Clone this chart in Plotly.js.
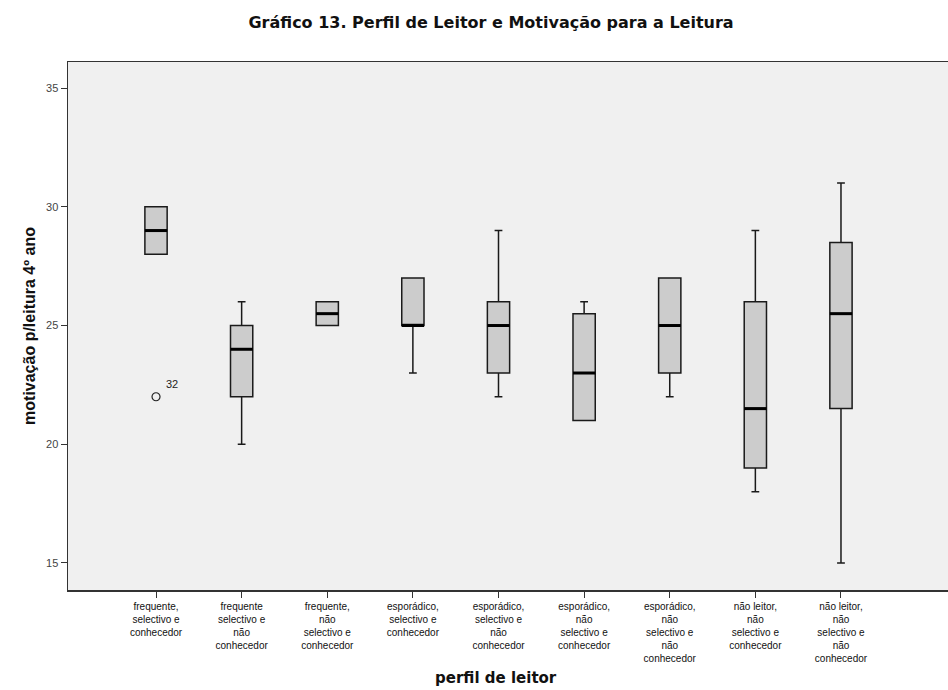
<!DOCTYPE html>
<html>
<head>
<meta charset="utf-8">
<script src="https://cdn.plot.ly/plotly-3.0.1.min.js"></script>
<style>html,body{margin:0;padding:0;background:#fff;}#chart{width:948px;height:690px;}</style>
</head>
<body>
<div id="chart"></div>
<script>
const categories = [
  "frequente,<br>selectivo e<br>conhecedor",
  "frequente<br>selectivo e<br>não<br>conhecedor",
  "frequente,<br>não<br>selectivo e<br>conhecedor",
  "esporádico,<br>selectivo e<br>conhecedor",
  "esporádico,<br>selectivo e<br>não<br>conhecedor",
  "esporádico,<br>não<br>selectivo e<br>conhecedor",
  "esporádico,<br>não<br>selectivo e<br>não<br>conhecedor",
  "não leitor,<br>não<br>selectivo e<br>conhecedor",
  "não leitor,<br>não<br>selectivo e<br>não<br>conhecedor"
];
const lowerFence = [28, 20, 25, 23, 22, 21, 22, 18, 15];
const q1Values   = [28, 22, 25, 25, 23, 21, 23, 19, 21.5];
const medians    = [29, 24, 25.5, 25, 25, 23, 25, 21.5, 25.5];
const q3Values   = [30, 25, 26, 27, 26, 25.5, 27, 26, 28.5];
const upperFence = [30, 26, 26, 27, 29, 26, 27, 29, 31];
const outlierCategoryIndex = [0];
const outlierValues = [22];
const outlierLabels = ["32"];
const yTickValues = [15, 20, 25, 30, 35];

const idx = categories.map((_, i) => i);
const boxWidth = 0.26;

const boxTrace = {
  type: 'box',
  x: idx,
  q1: q1Values,
  median: medians,
  q3: q3Values,
  lowerfence: lowerFence,
  upperfence: upperFence,
  fillcolor: '#cccccc',
  line: {color: '#1a1a1a', width: 1.5},
  width: boxWidth,
  whiskerwidth: 0.35,
  boxpoints: false,
  hoverinfo: 'skip',
  showlegend: false
};

const outlierTrace = {
  type: 'scatter',
  mode: 'markers',
  x: outlierCategoryIndex,
  y: outlierValues,
  marker: {symbol: 'circle-open', size: 8, color: '#222', line: {width: 1.2}},
  showlegend: false,
  hoverinfo: 'skip'
};

const medianShapes = medians.map((m, i) => ({
  type: 'line', xref: 'x', yref: 'y',
  x0: i - boxWidth / 2, x1: i + boxWidth / 2, y0: m, y1: m,
  line: {color: '#000', width: 3}
}));

const annotations = outlierValues.map((v, k) => ({
  x: outlierCategoryIndex[k], y: v, xref: 'x', yref: 'y',
  text: outlierLabels[k], showarrow: false,
  xshift: 16, yshift: 13,
  font: {family: 'Liberation Sans, Arial, sans-serif', size: 11, color: '#222'}
}));
annotations.push({
  x: 0.486, y: -0.167, xref: 'paper', yref: 'paper',
  xanchor: 'center', yanchor: 'middle', showarrow: false,
  text: '<b>perfil de leitor</b>',
  font: {family: 'DejaVu Sans, Verdana, sans-serif', size: 15, color: '#111'}
});

const layout = {
  width: 948, height: 690,
  margin: {l: 68, r: 0, t: 62, b: 100},
  paper_bgcolor: '#ffffff',
  plot_bgcolor: '#f0f0f0',
  title: {
    text: '<b>Gráfico 13. Perfil de Leitor e Motivação para a Leitura</b>',
    font: {family: 'DejaVu Sans, Verdana, sans-serif', size: 16, color: '#111'},
    x: 0.518, xanchor: 'center', y: 0.968, yanchor: 'middle'
  },
  xaxis: {
    tickmode: 'array',
    tickvals: idx,
    ticktext: categories,
    range: [-1.028, 9.25],
    showgrid: false, zeroline: false,
    showline: true, linecolor: '#333', linewidth: 1.5, mirror: true,
    ticks: 'outside', ticklen: 6, tickcolor: '#333',
    tickfont: {family: 'Liberation Sans, Arial, sans-serif', size: 10, color: '#111'}
  },
  yaxis: {
    range: [13.86, 36.1],
    tickmode: 'array',
    tickvals: yTickValues,
    showgrid: false, zeroline: false,
    showline: true, linecolor: '#333', linewidth: 1.5, mirror: false,
    ticks: 'outside', ticklen: 6, tickcolor: '#333',
    tickfont: {family: 'Liberation Sans, Arial, sans-serif', size: 11, color: '#444'},
    title: {
      text: '<b>motivação p/leitura 4º ano</b>',
      font: {family: 'Liberation Sans, Arial, sans-serif', size: 16, color: '#111'},
      standoff: 6
    }
  },
  shapes: medianShapes,
  annotations: annotations
};

Plotly.newPlot('chart', [boxTrace, outlierTrace], layout, {staticPlot: true, displayModeBar: false});
</script>
</body>
</html>
